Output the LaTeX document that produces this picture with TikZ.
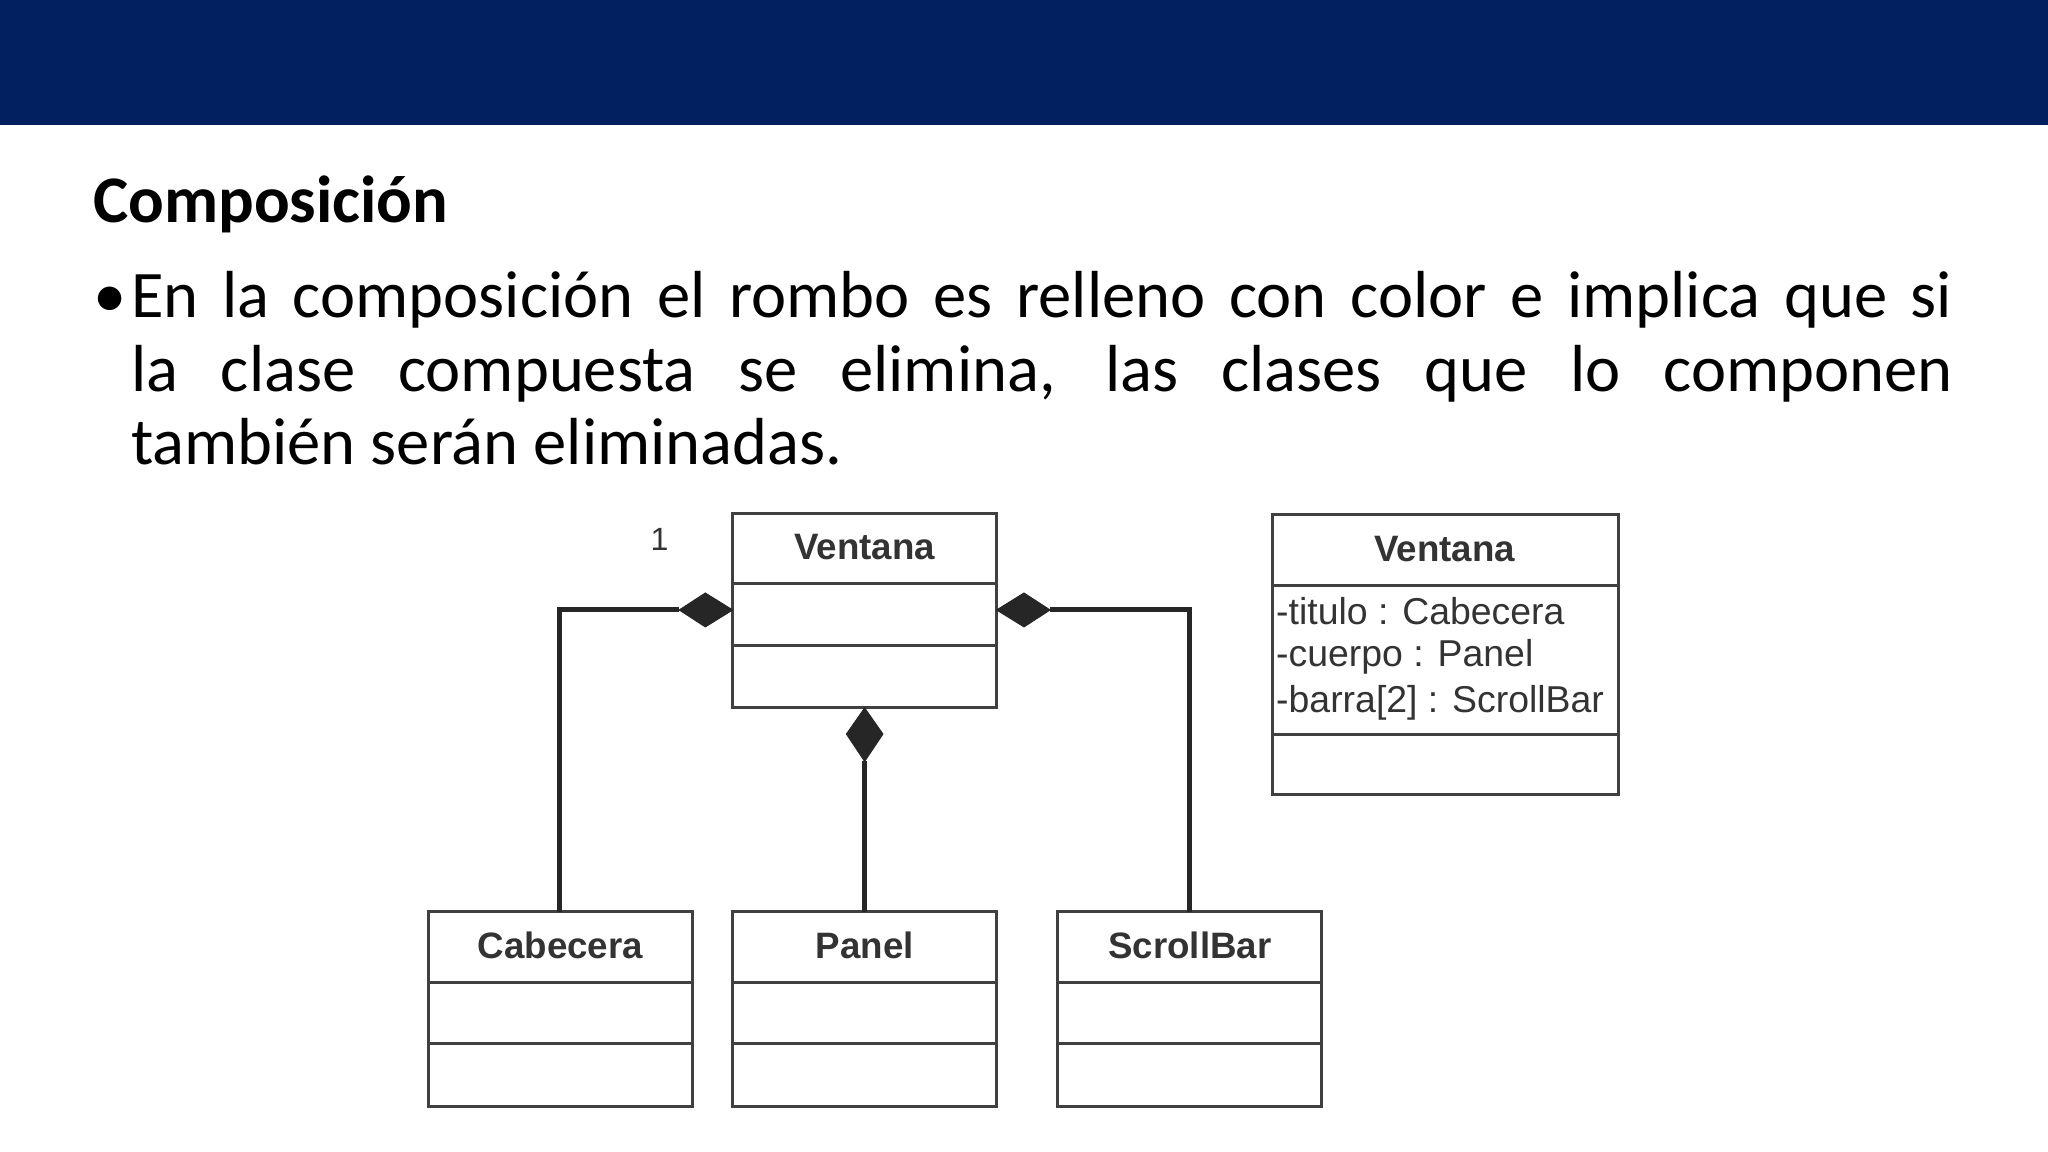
\documentclass[tikz,border=0pt]{standalone}
\usepackage{fontspec}
\setmainfont{Carlito}
\newfontfamily\arial{Liberation Sans}
\definecolor{navy}{HTML}{021F60}
\begin{document}
\begin{tikzpicture}[x=0.02cm,y=-0.02cm,
  box/.style={draw=black!75,line width=1.3pt},
  conn/.style={draw=black!85,line width=2.2pt},
  title/.style={font=\arial\bfseries\fontsize{16}{18}\selectfont,text=black!80},
  attr/.style={font=\arial\fontsize{16.3}{18}\selectfont,text=black!80,anchor=west,inner sep=1pt},
  dia/.style={fill=black!85,draw=black!85}]
\useasboundingbox (0,0) rectangle (1568,882);
\fill[white] (0,0) rectangle (1568,882);
\fill[navy] (0,0) rectangle (1568,96);
\node[anchor=base west,inner sep=0,font=\bfseries\fontsize{29}{33}\selectfont] (head) at (71,170) {Composición};
\node[anchor=base west,inner sep=0,font=\fontsize{29}{33}\selectfont] (bul) at (71,243) {•};
\node[anchor=base west,inner sep=0,font=\fontsize{29}{33}\selectfont] (l1) at (100,243) {\makebox[27.9cm][s]{En la composición el rombo es relleno con color e implica que si}};
\node[anchor=base west,inner sep=0,font=\fontsize{29}{33}\selectfont] (l2) at (100,300) {\makebox[27.9cm][s]{la clase compuesta se elimina, las clases que lo componen}};
\node[anchor=base west,inner sep=0,font=\fontsize{29}{33}\selectfont] (l3) at (100,356) {también serán eliminadas.};
% classes
\foreach \n/\x/\y/\t in {V/561/393/Ventana,C/328/698/Cabecera,P/561/698/Panel,S/810/698/ScrollBar}{
  \draw[box] (\x,\y) rectangle ++(202,149);
  \draw[box] (\x,\y+54) -- ++(202,0);
  \draw[box] (\x,\y+101) -- ++(202,0);
  \node[title] (\n) at (\x+101,\y+26) {\t};
}
\draw[box] (974,394) rectangle (1239,608);
\draw[box] (974,448) -- (1239,448);
\draw[box] (974,562) -- (1239,562);
\node[title] (V2) at (1106,420) {Ventana};
\node[attr] (a1) at (975,468) {-titulo : Cabecera};
\node[attr] (a2) at (975,503) {-cuerpo : Panel};
\node[attr] (a3) at (975,538) {-barra[2] : ScrollBar};
% connectors
\coordinate (dl) at (520,467); \coordinate (dr) at (804,467); \coordinate (dm) at (662,583);
\draw[dia] (561,467) -- (540,454) -- (dl) -- (540,480) -- cycle;
\draw[dia] (763,467) -- (784,454) -- (dr) -- (784,480) -- cycle;
\draw[dia] (662,542) -- (676,562) -- (dm) -- (648,562) -- cycle;
\draw[conn] (dl) -- (428,467) -- (428,698);
\draw[conn] (dr) -- (911,467) -- (911,698);
\draw[conn] (dm) -- (662,698);
\node[font=\arial\fontsize{14}{16}\selectfont,text=black!80] (one) at (505,413) {1};
\end{tikzpicture}
\end{document}
